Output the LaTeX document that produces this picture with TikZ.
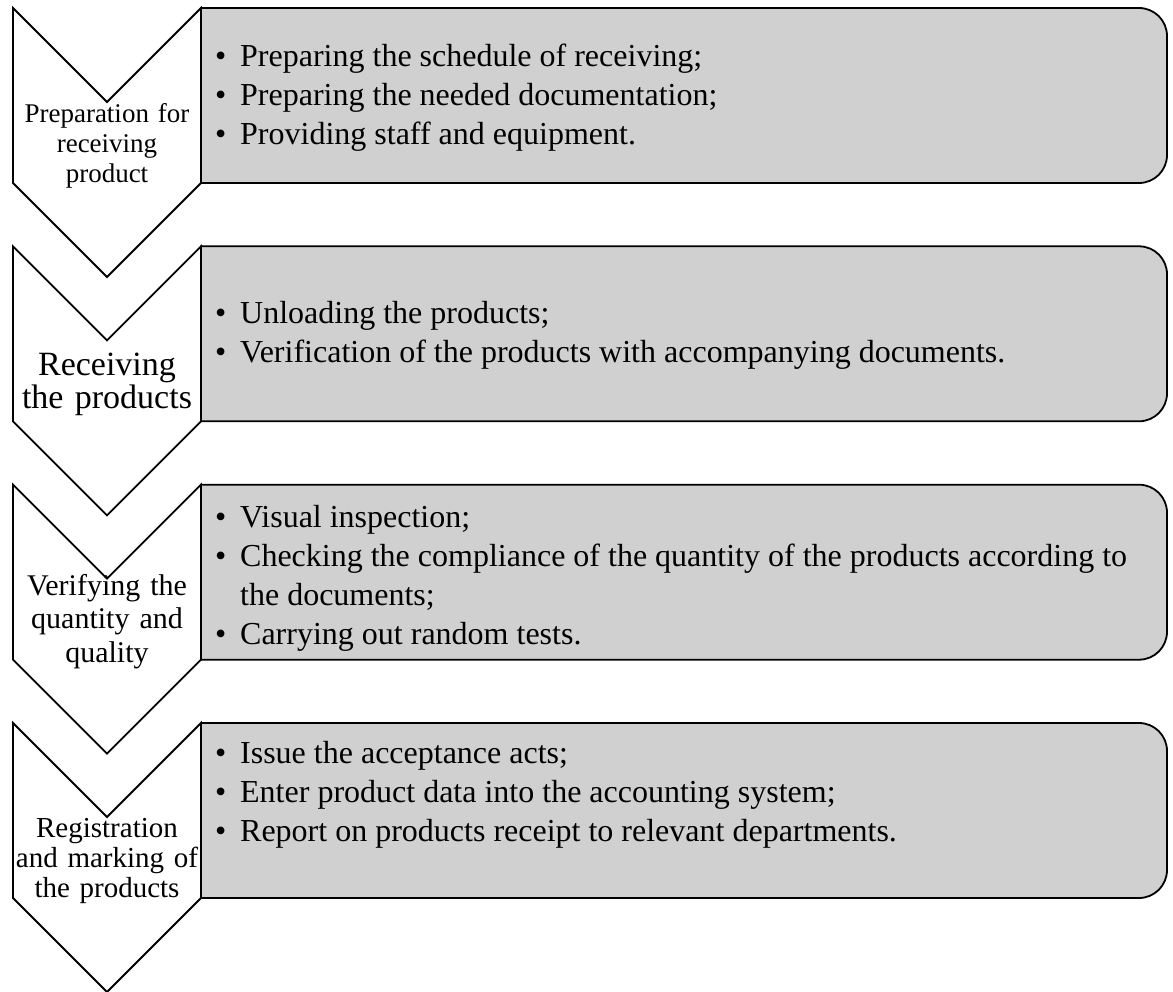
\documentclass[tikz,border=0pt]{standalone}
\usepackage{fontspec}
\setmainfont{Liberation Serif}
\definecolor{boxgray}{RGB}{208,208,208}
\begin{document}
\begin{tikzpicture}[x=1pt,y=-1pt,
  stageshape/.style={draw=black,line width=1.8pt,fill=white,line join=miter},
  detailbox/.style={draw=black,line width=1.8pt,fill=boxgray},
  stagelabel/.style={inner sep=0pt,text width=192pt,align=center,anchor=base},
  itemlist/.style={inner sep=0pt,anchor=base west,font=\fontsize{32}{39}\selectfont}
]
\useasboundingbox (0,0) rectangle (1173,992);

% chevrons on the left and grey rounded panels on the right
\foreach \t in {8,246.3,484.7,723} {
  \draw[stageshape] (13,\t) -- (107,\t+94) -- (201,\t) -- (201,\t+175)
        -- (107,\t+269) -- (13,\t+175) -- cycle;
  \draw[detailbox] (201,\t) -- (1139,\t)
        arc[start angle=-90,end angle=0,radius=28] -- (1167,\t+147)
        arc[start angle=0,end angle=90,radius=28] -- (201,\t+175) -- cycle;
}

% stage names
\node[stagelabel,font=\fontsize{27}{30}\selectfont] (lab1) at (107,123)
  {Preparation for\\receiving\\product};
\node[stagelabel,font=\fontsize{34}{33}\selectfont] (lab2) at (107,375)
  {Receiving\\the products};
\node[stagelabel,font=\fontsize{30}{33.5}\selectfont] (lab3) at (107,595)
  {Verifying the\\quantity and\\quality};
\node[stagelabel,font=\fontsize{29}{30}\selectfont] (lab4) at (107,837)
  {Registration\\and marking of\\the products};

% stage details
\node[itemlist] (list1) at (215,67) {\begin{tabular}[t]{@{}p{25pt}@{}l@{}}
  \textbullet & Preparing the schedule of receiving;\\
  \textbullet & Preparing the needed documentation;\\
  \textbullet & Providing staff and equipment.
\end{tabular}};
\node[itemlist] (list2) at (215,324) {\begin{tabular}[t]{@{}p{25pt}@{}l@{}}
  \textbullet & Unloading the products;\\
  \textbullet & Verification of the products with accompanying documents.
\end{tabular}};
\node[itemlist] (list3) at (215,527) {\begin{tabular}[t]{@{}p{25pt}@{}l@{}}
  \textbullet & Visual inspection;\\
  \textbullet & Checking the compliance of the quantity of the products according to\\
              & the documents;\\
  \textbullet & Carrying out random tests.
\end{tabular}};
\node[itemlist] (list4) at (215,763) {\begin{tabular}[t]{@{}p{25pt}@{}l@{}}
  \textbullet & Issue the acceptance acts;\\
  \textbullet & Enter product data into the accounting system;\\
  \textbullet & Report on products receipt to relevant departments.
\end{tabular}};
\end{tikzpicture}
\end{document}
